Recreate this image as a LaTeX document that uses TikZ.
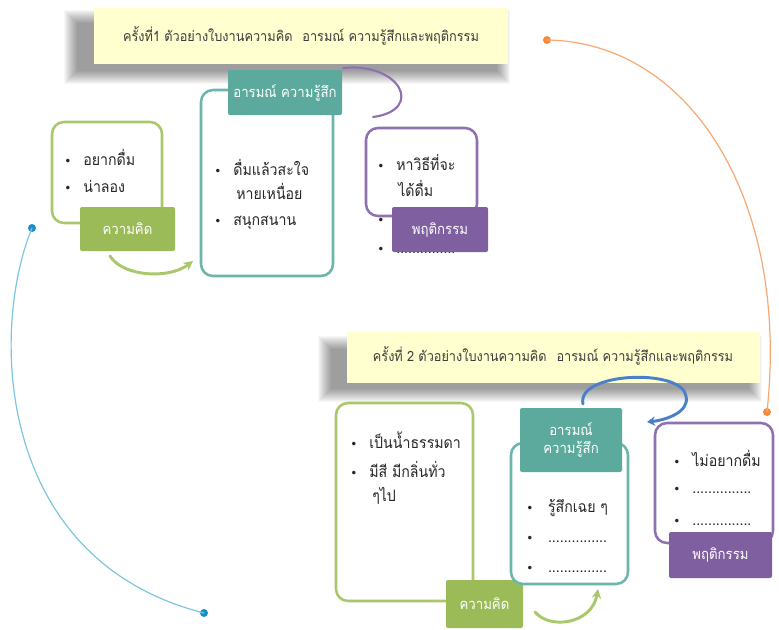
\documentclass[tikz,border=0pt]{standalone}
\usepackage{fontspec}
\setmainfont[Script=Thai]{Loma}
\newfontfamily\thainarrow[Script=Thai,FakeStretch=0.9]{Loma}
\newfontfamily\symfont{DejaVu Sans}
\usetikzlibrary{arrows.meta,fit}
\definecolor{titlefill}{HTML}{FFFFCF}
\definecolor{titletext}{HTML}{3C3C3C}
\definecolor{gr}{HTML}{9BBB59}
\definecolor{grline}{HTML}{A9C76B}
\definecolor{tl}{HTML}{5BAA9D}
\definecolor{tlline}{HTML}{6BB5AB}
\definecolor{pu}{HTML}{7F5FA0}
\definecolor{puline}{HTML}{8E72B0}
\definecolor{bl}{HTML}{4A80C8}
\definecolor{org}{HTML}{F58A3C}
\definecolor{orgline}{HTML}{F7A873}
\definecolor{cy}{HTML}{1A8FC6}
\definecolor{cyline}{HTML}{7CC6E0}
\definecolor{itemtext}{HTML}{262626}
\newcommand{\bul}{{\symfont\small•}}
% soft shadow: stacked translucent rectangles, shifted left and down
\newcommand{\softshadow}[4]{%
  \foreach \k in {0,...,13}{%
    \fill[black, opacity=0.03] ({#1+\k},{#2+\k}) rectangle ({#3-\k},{#4-\k});
  }%
}
\tikzset{
  titlebox/.style={fill=titlefill, inner sep=0pt},
  titletxt/.style={text=titletext, font=\thainarrow\fontsize{10.6}{12}\selectfont},
  panel/.style={draw, line width=1.9pt, rounded corners=9pt, fill=white, inner sep=0pt},
  tag/.style={inner sep=0pt, rounded corners=1.5pt, text=white, font=\thainarrow\fontsize{11}{12}\selectfont, align=center},
  item/.style={anchor=west, inner sep=0pt, text=itemtext, font=\thainarrow\fontsize{11.8}{13}\selectfont},
  loop/.style={line width=2.2pt, line cap=round},
  dot/.style={circle, inner sep=0pt, minimum size=6pt},
  thin/.style={line width=0.9pt}
}
\begin{document}
\begin{tikzpicture}[x=0.75pt,y=-0.75pt]
\useasboundingbox[fill=white] (0,0) rectangle (779,629);

% ---- first worksheet ----
\softshadow{64}{10}{510}{84}
\node[titlebox, fit={(94,8) (508,64)}] (t1) {};
\node[titletxt] (t1txt) at (301,36) {ครั้งที่1 ตัวอย่างใบงานความคิด\hspace{0.4em} อารมณ์ ความรู้สึกและพฤติกรรม};

% thought
\node[panel, draw=grline, fit={(52,122) (162,223)}] (th1) {};
\node[item] (th1a) at (64,157) {\bul\hspace{9pt}อยากดื่ม};
\node[item] (th1b) at (64,186) {\bul\hspace{9pt}น่าลอง};
\node[tag, fill=gr, fit={(80,207) (175,251)}] (th1tag) {};
\node[tag] at (th1tag.center) {ความคิด};

% feeling
\node[panel, draw=tlline, fit={(201,90) (333,276)}] (fe1) {};
\node[item] (fe1a) at (214,167) {\bul\hspace{9pt}ดื่มแล้วสะใจ};
\node[item] (fe1b) at (236,191) {หายเหนื่อย};
\node[item] (fe1c) at (214,223) {\bul\hspace{9pt}สนุกสนาน};
\node[tag, fill=tl, fit={(228,70) (342,115)}] (fe1tag) {};
\node[tag] at (fe1tag.center) {อารมณ์ ความรู้สึก};

% behaviour
\node[panel, draw=puline, fit={(366,128) (477,216)}] (be1) {};
\node[item] (be1a) at (377,162) {\bul\hspace{9pt}หาวิธีที่จะ};
\node[item] (be1b) at (398,188) {ได้ดื่ม};
\node[item] (be1c) at (377,221) {\bul};
\node[item] (be1d) at (377,250) {\bul\hspace{9pt}...............};
\node[tag, fill=pu, fit={(392,207) (488,252)}] (be1tag) {};
\node[tag] at (be1tag.center) {พฤติกรรม};

% links of the first worksheet
\coordinate (g1s) at (110,256);
\coordinate (g1e) at (193,261);
\draw[loop, grline, -{Stealth[length=7pt,width=7pt]}] (g1s) .. controls (122,276) and (168,280) .. (g1e);
\coordinate (p1s) at (343,68);
\coordinate (p1e) at (373,117);
\draw[loop, puline, line width=1.6pt] (p1s) .. controls (400,62) and (425,110) .. (p1e);

% ---- second worksheet ----
\softshadow{318}{336}{762}{402}
\node[titlebox, fit={(347,332) (760,383)}] (t2) {};
\node[titletxt] (t2txt) at (553,356) {ครั้งที่ 2 ตัวอย่างใบงานความคิด\hspace{0.4em} อารมณ์ ความรู้สึกและพฤติกรรม};

% thought
\node[panel, draw=grline, fit={(336,403) (473,601)}] (th2) {};
\node[item] (th2a) at (350,440) {\bul\hspace{9pt}เป็นน้ำธรรมดา};
\node[item] (th2b) at (350,469) {\bul\hspace{9pt}มีสี มีกลิ่นทั่ว};
\node[item] (th2c) at (372,496) {ๆไป};
\node[tag, fill=gr, fit={(446,580) (523,628)}] (th2tag) {};
\node[tag] at (th2tag.center) {ความคิด};

% feeling
\node[panel, draw=tlline, fit={(511,443) (628,584)}] (fe2) {};
\node[item] (fe2a) at (526,508) {\bul\hspace{11pt}รู้สึกเฉย ๆ};
\node[item] (fe2b) at (526,539) {\bul\hspace{11pt}...............};
\node[item] (fe2c) at (526,569) {\bul\hspace{11pt}...............};
\node[tag, fill=tl, fit={(520,408) (622,472)}] (fe2tag) {};
\node[tag] at (fe2tag.center) {อารมณ์\\[2pt]ความรู้สึก};

% behaviour
\node[panel, draw=puline, fit={(655,423) (773,543)}] (be2) {};
\node[item] (be2a) at (673,458) {\bul\hspace{9pt}ไม่อยากดื่ม};
\node[item] (be2b) at (673,490) {\bul\hspace{9pt}...............};
\node[item] (be2c) at (673,522) {\bul\hspace{9pt}...............};
\node[tag, fill=pu, fit={(669,532) (772,578)}] (be2tag) {};
\node[tag] at (be2tag.center) {พฤติกรรม};

% links of the second worksheet
\coordinate (g2s) at (535,612);
\coordinate (g2e) at (598,589);
\draw[loop, grline, -{Stealth[length=7pt,width=7pt]}] (g2s) .. controls (550,630) and (592,624) .. (g2e);
\coordinate (b2s) at (583,404);
\coordinate (b2m) at (686,396);
\coordinate (b2e) at (647,422);
\draw[loop, bl, -{Stealth[length=6pt,width=7pt]}] (b2s) .. controls (576,372) and (682,368) .. (b2m) .. controls (690,412) and (666,420) .. (b2e);

% ---- arcs joining the two worksheets ----
\node[dot, fill=org] (o1) at (547,40) {};
\node[dot, fill=org] (o2) at (767,412) {};
\draw[thin, orgline] (o1.center) .. controls (690,42) and (790,200) .. (o2.center);
\node[dot, fill=cy] (c1) at (32,228) {};
\node[dot, fill=cy] (c2) at (204,613) {};
\draw[thin, cyline] (c1.center) .. controls (-10,330) and (-5,560) .. (c2.center);
\end{tikzpicture}
\end{document}
